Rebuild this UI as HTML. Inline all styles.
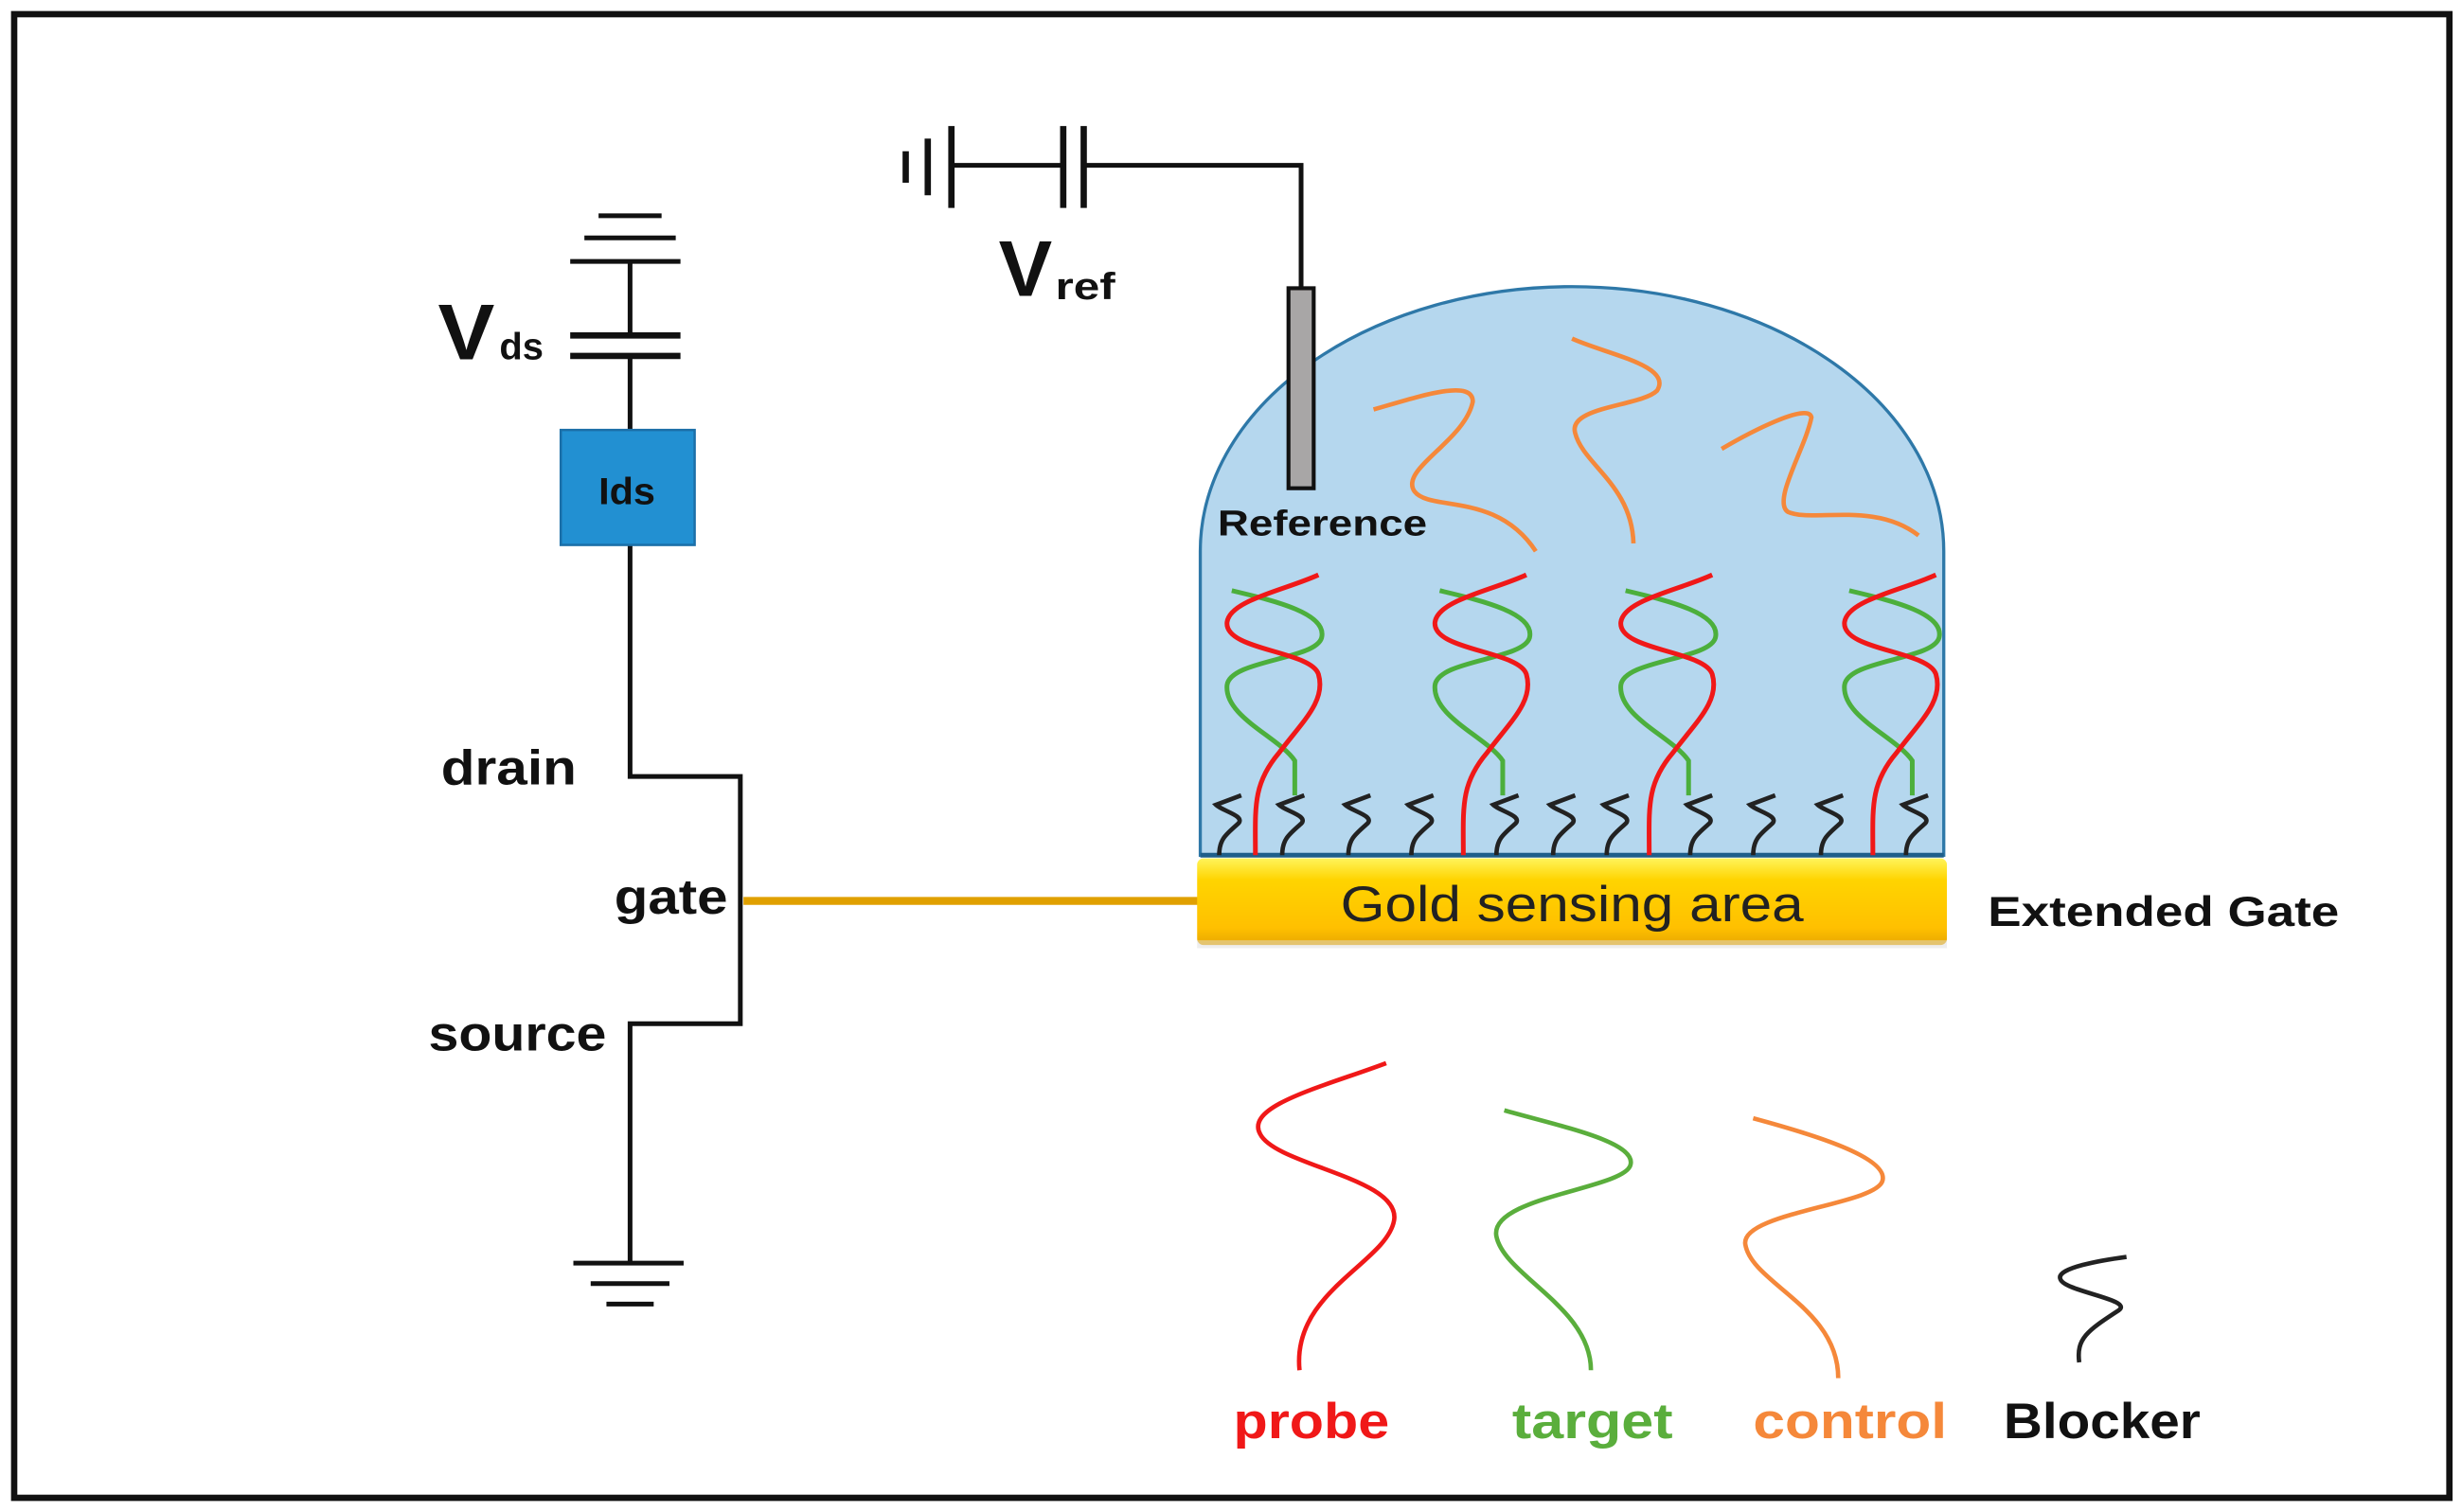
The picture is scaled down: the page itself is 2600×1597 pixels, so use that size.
<!DOCTYPE html>
<html><head><meta charset="utf-8"><style>
html,body{margin:0;padding:0;background:#fff;width:2600px;height:1597px;overflow:hidden}
svg{display:block}
text{font-family:"Liberation Sans",sans-serif}
</style></head><body>
<svg width="2600" height="1597" viewBox="0 0 1563 960" preserveAspectRatio="none" xmlns="http://www.w3.org/2000/svg">
<defs>
<linearGradient id="gold" x1="0" y1="0" x2="0" y2="1">
<stop offset="0" stop-color="#FFF45A"/><stop offset="0.25" stop-color="#FFD400"/><stop offset="0.8" stop-color="#FFC000"/><stop offset="1" stop-color="#E8A800"/>
</linearGradient>
<g id="helix" fill="none" stroke-width="3">
<path stroke="#4CAF3C" d="M25,-38 L25,-60 C15,-75 -20,-88 -18,-108 C-16,-124 38,-124 42,-138 C46,-154 10,-162 -15,-168"/>
<path stroke="#F01818" d="M0,0 C0,-30 -2,-45 15,-65 C30,-85 45,-98 40,-115 C35,-130 -20,-130 -18,-148 C-16,-162 18,-168 40,-178"/>
</g>
<path id="blk" fill="none" stroke="#222" stroke-width="2.8" d="M0,0 C0,-10 4,-13 12,-20 C17,-25 2,-28 -2,-32 L14,-38"/>
</defs>
<rect x="0" y="0" width="1563" height="960" fill="#fff"/>
<rect x="9" y="9" width="1546" height="942" fill="none" stroke="#111" stroke-width="4"/>

<path d="M762,543 L762,350 A236,168 0 0 1 1234,350 L1234,543 Z" fill="#B5D7EE" stroke="#2E78A8" stroke-width="2"/>
<line x1="762" y1="543" x2="1234" y2="543" stroke="#1F5F8A" stroke-width="3"/>

<g fill="none" stroke="#F5883A" stroke-width="2.8">
<path d="M872,260 C900,252 935,240 935,255 C930,280 888,298 898,312 C908,325 950,312 975,350"/>
<path d="M998,215 C1020,225 1062,232 1052,248 C1042,258 995,258 1000,275 C1005,295 1036,308 1037,345"/>
<path d="M1093,285 C1110,275 1148,255 1150,265 C1146,285 1125,318 1135,325 C1150,332 1190,318 1218,340"/>
</g>

<use href="#helix" x="797" y="543"/>
<use href="#helix" x="929" y="543"/>
<use href="#helix" x="1047" y="543"/>
<use href="#helix" x="1189" y="543"/>

<use href="#blk" x="774" y="543"/><use href="#blk" x="814" y="543"/><use href="#blk" x="856" y="543"/>
<use href="#blk" x="896" y="543"/><use href="#blk" x="950" y="543"/><use href="#blk" x="986" y="543"/>
<use href="#blk" x="1020" y="543"/><use href="#blk" x="1073" y="543"/><use href="#blk" x="1113" y="543"/>
<use href="#blk" x="1156" y="543"/><use href="#blk" x="1210" y="543"/>

<polyline points="604,105 675,105" stroke="#111" stroke-width="3" fill="none"/>
<polyline points="688,105 826,105 826,182" stroke="#111" stroke-width="3" fill="none"/>
<line x1="675" y1="80" x2="675" y2="132" stroke="#111" stroke-width="4"/>
<line x1="688" y1="80" x2="688" y2="132" stroke="#111" stroke-width="4"/>
<line x1="604" y1="80" x2="604" y2="132" stroke="#111" stroke-width="4"/>
<line x1="589" y1="88" x2="589" y2="124" stroke="#111" stroke-width="4"/>
<line x1="575" y1="96" x2="575" y2="116" stroke="#111" stroke-width="4"/>
<rect x="818" y="183" width="16" height="127" fill="#A8A6A6" stroke="#111" stroke-width="2.5"/>
<text x="634" y="188" font-size="50" font-weight="bold" fill="#111" textLength="34" lengthAdjust="spacingAndGlyphs">V</text>
<text x="670" y="190" font-size="24" font-weight="bold" fill="#111" textLength="38" lengthAdjust="spacingAndGlyphs">ref</text>
<text x="773" y="340" font-size="23" font-weight="bold" fill="#111" textLength="133" lengthAdjust="spacingAndGlyphs">Reference</text>

<line x1="472" y1="572" x2="762" y2="572" stroke="#E0A000" stroke-width="5"/>
<rect x="760" y="545" width="476" height="55" rx="4" fill="url(#gold)"/>
<rect x="760" y="597" width="476" height="5" fill="#ddd" opacity="0.5"/>
<text x="851" y="585" font-size="32" fill="#222" textLength="294" lengthAdjust="spacingAndGlyphs">Gold sensing area</text>
<text x="1262" y="588" font-size="27" font-weight="bold" fill="#111" textLength="223" lengthAdjust="spacingAndGlyphs">Extended Gate</text>

<g stroke="#111" stroke-width="3" fill="none">
<line x1="380" y1="137" x2="420" y2="137"/>
<line x1="371" y1="151" x2="429" y2="151"/>
<line x1="362" y1="166" x2="432" y2="166"/>
<line x1="400" y1="166" x2="400" y2="213"/>
<line x1="362" y1="213" x2="432" y2="213" stroke-width="4"/>
<line x1="362" y1="226" x2="432" y2="226" stroke-width="4"/>
<line x1="400" y1="226" x2="400" y2="273"/>
<polyline points="400,346 400,493 470,493 470,650 400,650 400,802"/>
<line x1="364" y1="802" x2="434" y2="802"/>
<line x1="375" y1="815" x2="425" y2="815"/>
<line x1="385" y1="828" x2="415" y2="828"/>
</g>
<rect x="356" y="273" width="85" height="73" fill="#2290D2" stroke="#1B6FA8" stroke-width="1.5"/>
<text x="380" y="320" font-size="24" font-weight="bold" fill="#111" textLength="36" lengthAdjust="spacingAndGlyphs">Ids</text>
<text x="278" y="228" font-size="50" font-weight="bold" fill="#111" textLength="36" lengthAdjust="spacingAndGlyphs">V</text>
<text x="317" y="228" font-size="24" font-weight="bold" fill="#111" textLength="28" lengthAdjust="spacingAndGlyphs">ds</text>
<text x="280" y="498" font-size="31" font-weight="bold" fill="#111" textLength="86" lengthAdjust="spacingAndGlyphs">drain</text>
<text x="390" y="580" font-size="31" font-weight="bold" fill="#111" textLength="72" lengthAdjust="spacingAndGlyphs">gate</text>
<text x="272" y="667" font-size="31" font-weight="bold" fill="#111" textLength="113" lengthAdjust="spacingAndGlyphs">source</text>

<g fill="none" stroke-width="2.8">
<path stroke="#F01818" d="M880,675 C840,690 790,702 800,720 C810,740 890,748 885,775 C880,802 820,820 825,870"/>
<path stroke="#5AAE3C" d="M955,705 C990,715 1040,725 1035,740 C1030,755 945,760 950,785 C955,810 1010,830 1010,870"/>
<path stroke="#F5883A" d="M1113,710 C1150,720 1200,735 1195,750 C1190,765 1105,770 1108,790 C1112,815 1167,830 1167,875"/>
<path stroke="#222" d="M1320,865 C1318,850 1325,845 1345,832 C1355,825 1310,820 1308,812 C1305,805 1335,800 1350,798"/>
</g>
<text x="783" y="913" font-size="32" font-weight="bold" fill="#F01818" textLength="99" lengthAdjust="spacingAndGlyphs">probe</text>
<text x="960" y="913" font-size="32" font-weight="bold" fill="#5AAE3C" textLength="102" lengthAdjust="spacingAndGlyphs">target</text>
<text x="1113" y="913" font-size="32" font-weight="bold" fill="#F5883A" textLength="123" lengthAdjust="spacingAndGlyphs">control</text>
<text x="1272" y="913" font-size="32" font-weight="bold" fill="#111" textLength="125" lengthAdjust="spacingAndGlyphs">Blocker</text>
</svg>
</body></html>
